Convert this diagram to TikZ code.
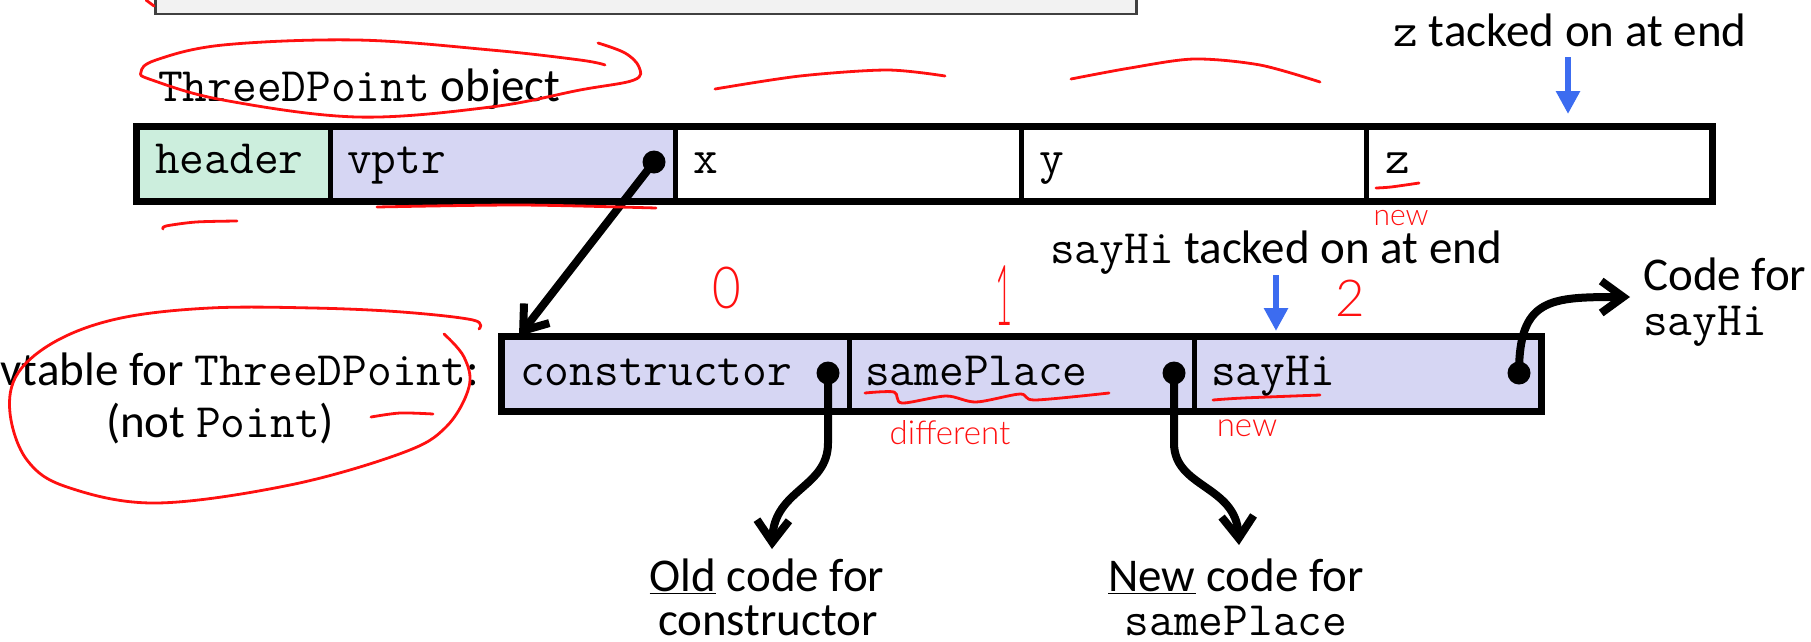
\documentclass[tikz,border=0pt]{standalone}
\usepackage{fontspec}
\setmainfont{Carlito}
\newfontfamily\handfont{Lato Light}
\usetikzlibrary{arrows.meta}

\definecolor{mint}{HTML}{CCEEDD}
\definecolor{lav}{HTML}{D6D6F3}
\definecolor{panelgray}{HTML}{F2F2F2}
\definecolor{hintblue}{HTML}{3C6CF0}
\definecolor{inkred}{HTML}{FF1010}

\newcommand\sz{\fontsize{47}{56}\selectfont}
\newcommand\mz{\fontsize{48}{56}\selectfont\ttfamily}

\tikzset{
  cell/.style={draw, line width=4.5pt, minimum height=73pt, inner sep=0pt, anchor=north west},
  celltext/.style={anchor=base west, inner sep=0pt, font=\mz},
  dot/.style={circle, fill=black, inner sep=0pt, minimum size=23pt},
  ptr/.style={line width=8pt, -{Straight Barb[length=22pt,width=32pt]}},
  hint/.style={draw=hintblue, line width=6pt, -{Triangle[length=23pt,width=23pt,fill=hintblue]}},
  lbl/.style={inner sep=0pt, font=\sz},
  ink/.style={draw=inkred, line width=2.8pt, line cap=round, line join=round},
  inktext/.style={text=inkred, inner sep=0pt},
  panelbox/.style={draw=black!75, fill=panelgray, line width=2.5pt, inner sep=0pt},
}

\begin{document}
\begin{tikzpicture}[x=1pt,y=-1pt]
\useasboundingbox (0,0) rectangle (1811,641);

% slide panel running off the top edge
\node[panelbox, minimum width=981pt, minimum height=40pt, anchor=south west] (panel) at (154,15) {};

% ---- ThreeDPoint object layout ----
\node[lbl, anchor=base west] (objlbl) at (158,101) {{\mz ThreeDPoint} object};

\node[cell, fill=mint, minimum width=193pt] (hdr)  at (135,125) {};
\node[cell, fill=lav,  minimum width=345pt] (vptr) at (328,125) {};
\node[cell, fill=white, minimum width=346pt] (fx)  at (673,125) {};
\node[cell, fill=white, minimum width=345pt] (fy)  at (1019,125) {};
\node[cell, fill=white, minimum width=345pt] (fz)  at (1364,125) {};
\draw[line width=5pt] (hdr.north west) rectangle (fz.south east);

\node[celltext] (thdr) at (155,173) {header};
\node[celltext] (tvptr) at (347,173) {vptr};
\node[celltext] (tx) at (693,173) {x};
\node[celltext] (ty) at (1039,173) {y};
\node[celltext] (tz) at (1385,173) {z};

\node[lbl, anchor=base] (zlbl) at (1570,46) {{\mz z} tacked on at end};
\coordinate (zfrom) at (1568,57);
\coordinate (zto) at (1568,114);
\draw[hint] (zfrom) -- (zto);

% ---- vtable ----
\node[lbl, anchor=base east] (vtlbl) at (479,385) {vtable for {\mz ThreeDPoint}:};
\node[lbl, anchor=base] (vtlbl2) at (220,437) {(not {\mz Point})};

\node[cell, fill=lav, minimum width=347pt] (con) at (500,335) {};
\node[cell, fill=lav, minimum width=345pt] (sp)  at (847,335) {};
\node[cell, fill=lav, minimum width=346pt] (sh)  at (1192,335) {};
\draw[line width=5pt] (con.north west) rectangle (sh.south east);

\node[celltext] (tcon) at (520,385) {constructor};
\node[celltext] (tsp) at (865,385) {samePlace};
\node[celltext] (tsh) at (1211,385) {sayHi};

\node[lbl, anchor=base] (hilbl) at (1276,263) {{\mz sayHi} tacked on at end};
\coordinate (hifrom) at (1276,275);
\coordinate (hito) at (1276,331);
\draw[hint] (hifrom) -- (hito);

\node[lbl, anchor=base west] (code1) at (1643,290) {Code for};
\node[anchor=base west, inner sep=0pt, font=\mz] (code2) at (1643,335) {sayHi};

\node[lbl, anchor=base] (old1) at (767,591) {\underline{Old} code for};
\node[lbl, anchor=base] (old2) at (768,635) {constructor};
\node[lbl, anchor=base] (new1) at (1236,591) {\underline{New} code for};
\node[anchor=base, inner sep=0pt, font=\mz] (new2) at (1236,635) {samePlace};

% ---- pointers ----
\coordinate (vtin) at (519,336);
\coordinate (oldtip) at (772,549);
\coordinate (newtip) at (1239,545);
\coordinate (hitip) at (1630,297);

\draw[ptr] (654,162) -- (vtin);
\draw[ptr] (828,373) -- ++(0,70) .. controls +(0,45) and +(2,-60) .. (oldtip);
\draw[ptr] (1174,373) -- ++(0,70) .. controls +(0,45) and +(-3,-60) .. (newtip);
\draw[ptr] (1519,373) .. controls +(0,-75) and +(-80,0) .. (hitip);

\node[dot] (d0) at (654,162) {};
\node[dot] (d1) at (828,373) {};
\node[dot] (d2) at (1174,373) {};
\node[dot] (d3) at (1519,373) {};

% ---- red pen marks ----
\draw[ink] (146,0) -- (154,6);
\draw[ink] plot[smooth, tension=0.6] coordinates {(605,65) (580,60) (491,50) (357,40) (223,45) (156,60) (141,72) (152,80) (223,100) (357,117) (491,107) (580,90) (634,80) (639,67) (625,53) (598,43)};
\draw[ink] plot[smooth] coordinates {(377,207) (520,205) (656,208)};
\draw[ink] plot[smooth] coordinates {(163,229) (166,226) (196,222) (237,221)};
\draw[ink] plot[smooth] coordinates {(715,89) (800,76) (887,70) (945,76)};
\draw[ink] plot[smooth] coordinates {(1071,79) (1130,68) (1194,59) (1260,65) (1320,82)};
\draw[ink] plot[smooth] coordinates {(1376,188) (1391,187) (1419,183)};
\node[inktext, font=\handfont\fontsize{30}{30}\selectfont] (newz) at (1401,218) {new};

\node[inktext, font=\handfont\fontsize{58}{58}\selectfont, xscale=0.85, transform shape] (n0) at (727,288) {0};
\node[inktext, font=\handfont\fontsize{84}{84}\selectfont, xscale=0.35, transform shape] (n1) at (1004,296) {1};
\node[inktext, font=\handfont\fontsize{51}{51}\selectfont] (n2) at (1350,298) {2};

\draw[ink] plot[smooth, tension=0.5] coordinates {(865,393) (894,392) (902,403) (946,396) (976,402) (1020,394) (1035,400) (1109,393)};
\node[inktext, font=\handfont\fontsize{33}{33}\selectfont] (diff) at (950,433) {different};
\draw[ink] plot[smooth] coordinates {(1213,400) (1243,398) (1320,395)};
\node[inktext, font=\handfont\fontsize{33}{33}\selectfont] (newhi) at (1247,428) {new};

\draw[ink] plot[smooth, tension=0.6] coordinates {(479,329) (473,320) (402,312) (313,308) (210,308) (121,318) (58,340) (18,373) (10,413) (27,460) (67,487) (156,503) (290,485) (402,453) (446,427) (469,387) (464,357) (444,334)};
\draw[ink] plot[smooth] coordinates {(371,417) (400,413) (433,414)};

\end{tikzpicture}
\end{document}
